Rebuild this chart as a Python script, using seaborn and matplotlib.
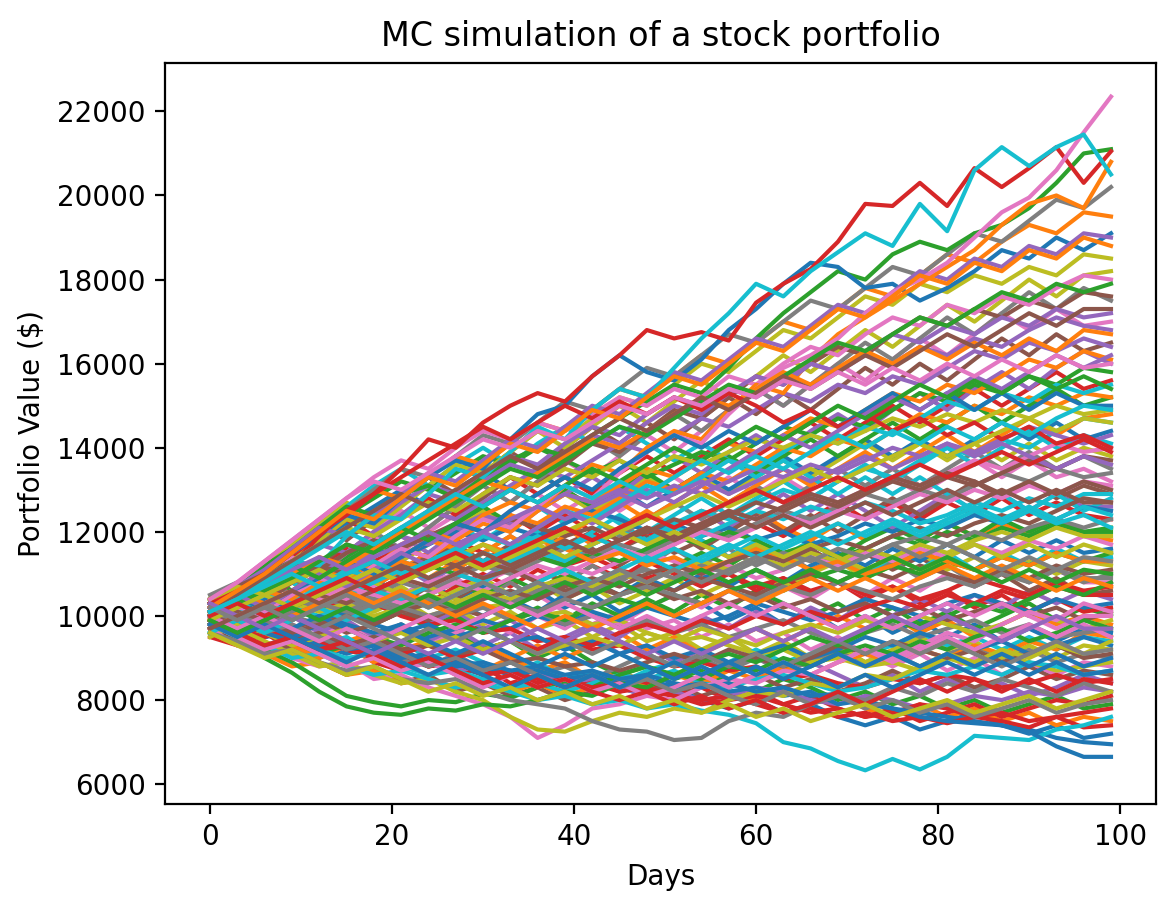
import matplotlib
matplotlib.use("Agg")
import matplotlib.pyplot as plt
import pandas as pd
import seaborn as sns

# Day axis: every 3rd trading day, 0..99
DAYS = list(range(0, 100, 3))

# Portfolio paths ($)
sim_00 = [10200, 9800, 9500, 9700, 9300, 9100, 9300, 8900, 9100, 8800,
          8600, 8900, 8700, 8400, 8600, 8300, 8100, 8300, 8000, 7800,
          8000, 7700, 7900, 7600, 7400, 7600, 7300, 7500, 7700, 7400,
          7200, 7400, 7100, 7200]
sim_01 = [9900, 10100, 9700, 9500, 9800, 9400, 9600, 9200, 9400, 9000,
          9300, 9000, 8700, 8900, 8500, 8700, 8400, 8200, 8500, 8200,
          8000, 8300, 7900, 8100, 7800, 7600, 7900, 7600, 7800, 7500,
          7700, 7400, 7600, 7500]
sim_02 = [10400, 10100, 10300, 9900, 10200, 9800, 9500, 9800, 9400, 9600,
          9200, 9400, 9000, 9300, 8900, 8600, 8800, 8500, 8700, 8400,
          8200, 8500, 8300, 8000, 8200, 7900, 8100, 7800, 8000, 7700,
          7900, 8100, 7800, 7900]
sim_03 = [9500, 9300, 9600, 9200, 9000, 9300, 8900, 8700, 9000, 8600,
          8800, 8400, 8600, 8300, 8500, 8200, 8400, 8100, 8300, 8000,
          8200, 7900, 8100, 7800, 7600, 7800, 7500, 7700, 7900, 7600,
          7800, 8000, 7900, 8100]
sim_04 = [10100, 10400, 10000, 10300, 10600, 10200, 10500, 10100, 9800, 10100,
          9700, 9900, 9500, 9200, 9500, 9100, 9300, 8900, 9200, 8800,
          9000, 8700, 8900, 8600, 8300, 8600, 8200, 8500, 8200, 8400,
          8100, 8300, 8600, 8400]
sim_05 = [9700, 9400, 9100, 9300, 8900, 8600, 8800, 8400, 8600, 8200,
          8400, 8100, 8300, 8000, 8200, 8500, 8200, 8400, 8100, 8300,
          8600, 8300, 8500, 8200, 8400, 8700, 8400, 8600, 8300, 8500,
          8800, 8500, 8700, 8600]
sim_06 = [10300, 10700, 10400, 10800, 11100, 10800, 11200, 10900, 10600, 10900,
          10500, 10200, 10500, 10100, 9800, 10100, 9700, 9900, 9500, 9800,
          9400, 9600, 9200, 9500, 9100, 8800, 9100, 8700, 9000, 8600,
          8900, 8600, 8900, 8800]
sim_07 = [9900, 9600, 9800, 9400, 9600, 9200, 9400, 9000, 8800, 9100,
          8700, 8900, 8600, 8800, 8500, 8800, 9100, 8800, 9000, 8700,
          9000, 8700, 8900, 9200, 8900, 9100, 8800, 9100, 9300, 9000,
          9200, 8900, 9100, 9000]
sim_08 = [10000, 10300, 10600, 10300, 10700, 10400, 10100, 10400, 10000, 10200,
          9800, 10100, 9700, 9900, 9500, 9800, 9400, 9600, 9200, 9500,
          9100, 9400, 9000, 9300, 8900, 9200, 9500, 9200, 9400, 9000,
          9300, 9000, 9300, 9200]
sim_09 = [9600, 9900, 9500, 9700, 9300, 9500, 9100, 9400, 9000, 9200,
          8900, 8600, 8900, 8500, 8700, 8400, 8700, 8900, 8600, 8900,
          9200, 8900, 9100, 9400, 9100, 9300, 9600, 9300, 9500, 9200,
          9500, 9200, 9500, 9400]
sim_10 = [10200, 9900, 10200, 10500, 10200, 10600, 10900, 10500, 10800, 10400,
          10700, 10300, 10600, 10200, 10500, 10100, 10400, 10000, 10300, 9900,
          10200, 9800, 10100, 9700, 10000, 9600, 9900, 9500, 9800, 9400,
          9700, 9400, 9700, 9600]
sim_11 = [9800, 9500, 9700, 9300, 9000, 9300, 8900, 9200, 8800, 9000,
          8700, 9000, 9300, 9000, 9300, 9600, 9200, 9500, 9100, 9400,
          9700, 9400, 9700, 10000, 9700, 10000, 9600, 9900, 9500, 9800,
          10100, 9800, 10000, 9800]
sim_12 = [10100, 10400, 10000, 10300, 9900, 10200, 9800, 10100, 9700, 10000,
          9600, 9900, 10200, 9900, 10300, 10000, 10400, 10100, 10500, 10200,
          10600, 10300, 10000, 10300, 9900, 10200, 9800, 10100, 9700, 10000,
          10300, 9900, 10200, 10000]
sim_13 = [9700, 9900, 9600, 9900, 10200, 9900, 10300, 10600, 10300, 10700,
          11000, 10700, 11100, 10800, 11200, 10900, 11300, 11000, 10700, 11000,
          10600, 10900, 10500, 10800, 10400, 10700, 10300, 10600, 10200, 10500,
          10100, 10400, 10100, 10200]
sim_14 = [10300, 10000, 9700, 10000, 9600, 9900, 9500, 9800, 9400, 9700,
          9300, 9600, 9200, 9500, 9800, 9500, 9900, 9600, 10000, 9700,
          10100, 9800, 10200, 9900, 10300, 10000, 10400, 10100, 10500, 10200,
          10600, 10300, 10600, 10400]
sim_15 = [9900, 10200, 10500, 10800, 10500, 10900, 11300, 10900, 11300, 11700,
          11300, 11700, 12100, 11700, 12000, 11600, 11900, 11500, 11800, 11400,
          11700, 11300, 11600, 11200, 11500, 11100, 11400, 11000, 10700, 11000,
          10600, 10900, 10500, 10600]
sim_16 = [10000, 9800, 10100, 9800, 9500, 9800, 9400, 9700, 9300, 9600,
          9900, 9600, 10000, 9700, 10100, 9800, 10200, 10500, 10200, 10600,
          10300, 10700, 10400, 10800, 10500, 10900, 10600, 11000, 10700, 11100,
          10800, 11100, 10800, 10800]
sim_17 = [10500, 10800, 10500, 10900, 10600, 10300, 10600, 10200, 10500, 10100,
          10400, 10800, 10400, 10800, 11200, 10800, 11200, 11600, 11200, 11600,
          11200, 11500, 11100, 11400, 11000, 11300, 10900, 11200, 10800, 11100,
          10800, 11100, 10800, 11000]
sim_18 = [9800, 10100, 10400, 10100, 10500, 10800, 10400, 10700, 10300, 10600,
          10900, 10500, 10800, 10400, 10700, 10300, 10600, 10900, 10500, 10800,
          11100, 10700, 11000, 11300, 10900, 11200, 11500, 11100, 11400, 11000,
          11300, 11000, 11300, 11200]
sim_19 = [10200, 10500, 10900, 11300, 11000, 11400, 11800, 11400, 11800, 12200,
          11800, 12200, 12600, 12200, 12600, 12200, 11800, 12200, 11800, 11400,
          11800, 11400, 11800, 11400, 11000, 11400, 11100, 11500, 11100, 11500,
          11200, 11600, 11300, 11400]
sim_20 = [9900, 9600, 9900, 9500, 9800, 10100, 9800, 10200, 9900, 10300,
          10000, 10400, 10100, 10500, 10800, 10500, 10900, 10600, 11000, 10700,
          11100, 10800, 11200, 11500, 11200, 11600, 11300, 11700, 11400, 11800,
          11500, 11800, 11500, 11600]
sim_21 = [10100, 10400, 10100, 10500, 10900, 10500, 10900, 11300, 10900, 11300,
          11700, 11300, 11700, 12100, 11700, 12100, 12500, 12100, 12500, 12100,
          12500, 12100, 11800, 12200, 11800, 12200, 11800, 12200, 11900, 12200,
          11900, 12200, 11900, 11800]
sim_22 = [9700, 10000, 9700, 10000, 10300, 10000, 10400, 10100, 10500, 10800,
          10500, 10900, 10600, 11000, 10700, 11100, 10800, 11200, 11500, 11200,
          11600, 11300, 11700, 11400, 11800, 12100, 11800, 12200, 11900, 12300,
          12000, 12300, 12000, 12000]
sim_23 = [10400, 10700, 11100, 10800, 11200, 11600, 11200, 11600, 12000, 11600,
          12000, 12400, 12000, 12400, 12000, 11600, 12000, 11700, 12100, 11800,
          12200, 11900, 12300, 12700, 12300, 12700, 12300, 12700, 12400, 12800,
          12400, 12700, 12400, 12300]
sim_24 = [10000, 10300, 10000, 10400, 10700, 10400, 10800, 11200, 10800, 11200,
          10900, 11300, 11700, 11300, 11700, 12100, 11700, 12100, 12500, 12100,
          12500, 12900, 12500, 12900, 12500, 12100, 12500, 12900, 12500, 12900,
          12500, 12900, 12600, 12600]
sim_25 = [9800, 10100, 9800, 10200, 10500, 10200, 10600, 10300, 10700, 10400,
          10800, 11200, 10800, 11200, 11600, 11200, 11600, 12000, 11600, 12000,
          12400, 12000, 12400, 12000, 12400, 12800, 12400, 12800, 13200, 12800,
          13200, 12800, 13100, 12900]
sim_26 = [10200, 10600, 11000, 11400, 11000, 11500, 11900, 11500, 12000, 12400,
          12000, 12500, 12900, 12500, 12900, 12500, 12900, 13300, 12900, 13300,
          12900, 13300, 12900, 12500, 12900, 13300, 12900, 13300, 13700, 13300,
          13700, 13300, 13500, 13200]
sim_27 = [9900, 10200, 10600, 10300, 10700, 11100, 10700, 11100, 11500, 11100,
          11500, 11900, 11500, 11900, 12300, 11900, 12300, 12700, 12300, 12700,
          13100, 12700, 13100, 13500, 13100, 13500, 13100, 13500, 13900, 13500,
          13900, 13500, 13800, 13500]
sim_28 = [10100, 10500, 10900, 10500, 10900, 11300, 11700, 11300, 11700, 12100,
          12500, 12100, 12500, 12900, 12500, 12900, 13300, 12900, 13300, 12900,
          13300, 13700, 13300, 13700, 14100, 13700, 14100, 13700, 14100, 13700,
          14100, 13700, 14000, 13800]
sim_29 = [10300, 10000, 10400, 10800, 10400, 10800, 11200, 10800, 11200, 11600,
          11200, 11600, 12000, 11600, 12000, 12400, 12000, 12400, 12800, 12400,
          12800, 13200, 12800, 13200, 13600, 13200, 13600, 14000, 13600, 14000,
          14400, 14000, 14300, 14100]
sim_30 = [10000, 10400, 10800, 11300, 11700, 12200, 12600, 13000, 12600, 13000,
          13400, 13000, 13400, 13000, 12600, 13000, 12600, 13000, 13400, 13000,
          13400, 13800, 13400, 13800, 14200, 13800, 14200, 13800, 14200, 14600,
          14200, 14600, 14200, 14400]
sim_31 = [9900, 10300, 9900, 10300, 10700, 10300, 10700, 11100, 11500, 11100,
          11500, 11900, 11500, 11900, 12300, 12700, 12300, 12700, 13100, 12700,
          13100, 13500, 13100, 13500, 13900, 13500, 13900, 14300, 13900, 14300,
          14700, 14300, 14700, 14800]
sim_32 = [10200, 10600, 11000, 10600, 11000, 11400, 11800, 11400, 11800, 12200,
          12600, 12200, 12600, 13000, 12600, 13000, 13400, 13000, 13400, 13800,
          13400, 13800, 14200, 13800, 14200, 14600, 14200, 14600, 15000, 14600,
          15000, 15400, 15000, 15200]
sim_33 = [10100, 10500, 10900, 11400, 11800, 12300, 11900, 12400, 12800, 12400,
          12900, 13300, 12900, 13300, 12900, 13400, 13800, 13400, 13800, 14200,
          13800, 14200, 14600, 14200, 14600, 15000, 14600, 15000, 15400, 15000,
          15400, 15800, 15400, 15600]
sim_34 = [9800, 10200, 10600, 11000, 10600, 11100, 11500, 11900, 11500, 12000,
          12400, 12000, 12500, 12900, 13300, 12900, 13400, 13800, 13400, 13900,
          14300, 13900, 14400, 14800, 14400, 14900, 15300, 14900, 15400, 15800,
          15400, 15900, 16300, 16000]
sim_35 = [10300, 10700, 11200, 11700, 12200, 11800, 12300, 12800, 13300, 12900,
          13400, 13900, 13500, 14000, 14500, 14100, 14600, 14200, 14700, 15200,
          14800, 15300, 14900, 15400, 15900, 15500, 16000, 15600, 16100, 16600,
          16200, 16700, 16300, 16500]
sim_36 = [10000, 10400, 10900, 11400, 11000, 11500, 12000, 12500, 12100, 12600,
          13100, 12700, 13200, 13700, 13300, 13800, 14300, 13900, 14400, 14900,
          15400, 15000, 15500, 16000, 15600, 16100, 16600, 16200, 16700, 17200,
          16800, 17300, 16900, 17000]
sim_37 = [10100, 10500, 10900, 10500, 11000, 11500, 12000, 11600, 12100, 12600,
          13100, 12700, 13200, 13700, 14200, 13800, 14300, 14800, 14400, 14900,
          15400, 15000, 15500, 16000, 16500, 16100, 16600, 17100, 16700, 17200,
          17700, 17300, 17800, 17500]
sim_38 = [10200, 10700, 11200, 11700, 12200, 12700, 12300, 12800, 13300, 13800,
          13400, 13900, 14400, 14000, 14500, 15000, 14600, 15100, 15600, 15200,
          15700, 16200, 15800, 16300, 16800, 16400, 16900, 17400, 17000, 17500,
          18000, 17600, 18100, 18200]
sim_39 = [10200, 10600, 11100, 11600, 12100, 12600, 13100, 13500, 13100, 13600,
          14000, 13600, 14100, 14500, 14100, 14500, 14100, 13700, 14100, 13700,
          13300, 13700, 13300, 12900, 13300, 12900, 13300, 12900, 12500, 12900,
          12500, 12900, 12500, 12800]
sim_40 = [10300, 10600, 10900, 11200, 11000, 11300, 11600, 11400, 11700, 12000,
          11800, 12100, 11900, 12200, 12500, 12300, 12000, 12200, 11900, 12100,
          11800, 12000, 11700, 11900, 12200, 12000, 12300, 12100, 12400, 12200,
          12500, 12300, 12600, 12500]
sim_41 = [9600, 9300, 9100, 8800, 8900, 8600, 8700, 8400, 8500, 8300,
          8400, 8200, 8400, 8100, 8300, 8500, 8300, 8600, 8400, 8700,
          8500, 8800, 8600, 8900, 9100, 8900, 9200, 9000, 9300, 9100,
          9400, 9200, 9600, 9500]
sim_42 = [10300, 10700, 11200, 11600, 12000, 12400, 12800, 13200, 13000, 13400,
          13800, 13600, 14000, 13700, 13400, 13700, 13300, 13600, 13900, 13700,
          14100, 14500, 14300, 14700, 14500, 14900, 15300, 15100, 15500, 15300,
          15700, 15500, 15900, 15800]
sim_43 = [10300, 10600, 10400, 10800, 11100, 10900, 11300, 11600, 11400, 11800,
          11500, 11300, 11500, 11200, 11400, 11100, 10900, 11100, 10800, 11000,
          10700, 10900, 10600, 10800, 10500, 10700, 10400, 10600, 10900, 10700,
          10500, 10800, 10600, 10700]
sim_44 = [10000, 9700, 9800, 9500, 9300, 9400, 9100, 9200, 8900, 8700,
          8800, 8600, 8700, 8400, 8500, 8300, 8100, 8200, 8000, 8100,
          8300, 8200, 8000, 7900, 8100, 8000, 7800, 7900, 8100, 8000,
          8200, 8100, 8300, 8200]
sim_45 = [10100, 10500, 10300, 10800, 11200, 11700, 11500, 12000, 12500, 12300,
          12800, 13300, 13100, 13600, 14100, 13900, 14400, 14900, 14700, 15200,
          15700, 15500, 16000, 16400, 16200, 16700, 17100, 16900, 17300, 17100,
          17500, 17300, 17700, 17600]
sim_46 = [10000, 10200, 10500, 10300, 10600, 10400, 10700, 10500, 10800, 11000,
          10800, 11100, 10900, 11200, 11000, 11300, 11500, 11300, 11000, 11200,
          10900, 11100, 11400, 11200, 11500, 11300, 11600, 11400, 11700, 11500,
          11800, 11600, 11900, 11700]
sim_47 = [9700, 10000, 10300, 10100, 10400, 10200, 10500, 10800, 10600, 10900,
          11200, 11000, 11300, 11600, 11400, 11700, 11500, 11800, 12100, 11900,
          12200, 12500, 12300, 12600, 12900, 12700, 13000, 12800, 13100, 13400,
          13200, 13500, 13300, 13400]
sim_48 = [10100, 10400, 10600, 10900, 10700, 11000, 10800, 10500, 10700, 10400,
          10200, 10300, 10000, 10100, 9800, 9900, 9600, 9400, 9500, 9300,
          9100, 9200, 8900, 9000, 8800, 8900, 8700, 9000, 8800, 9100,
          8900, 8700, 8800, 8900]
sim_49 = [9900, 10100, 9900, 10200, 10000, 10300, 10600, 10400, 10700, 11000,
          10800, 11200, 11500, 11300, 11700, 12000, 11800, 12200, 12500, 12300,
          12700, 13000, 12800, 13200, 13500, 13300, 13700, 14000, 13800, 14200,
          14000, 14400, 14700, 14600]
sim_50 = [9800, 9600, 9900, 9700, 10000, 9800, 9600, 9800, 9500, 9700,
          9900, 9700, 10000, 9800, 10100, 9900, 10200, 10000, 9800, 10000,
          10300, 10100, 9900, 10100, 10400, 10200, 10000, 10300, 10500, 10300,
          10100, 10400, 10200, 10300]
sim_51 = [10000, 10500, 11000, 11500, 12000, 12500, 13000, 12800, 13300, 13800,
          13600, 14100, 14600, 14400, 14900, 15400, 15200, 15700, 16200, 16000,
          16500, 17000, 16800, 17300, 17800, 17600, 18100, 18600, 18400, 18900,
          19300, 19100, 19600, 19500]
sim_52 = [9800, 10100, 10400, 10200, 10500, 10800, 10600, 10900, 11200, 11000,
          11300, 11100, 11400, 11200, 11500, 11300, 11600, 11900, 11700, 12000,
          11800, 11500, 11700, 11400, 11600, 11900, 11700, 12000, 11800, 12100,
          11900, 12200, 12000, 12100]
sim_53 = [10200, 10500, 10300, 10600, 10400, 10100, 10300, 10000, 9800, 9900,
          9600, 9700, 9400, 9500, 9200, 9300, 9000, 8800, 8900, 8700,
          8800, 8500, 8600, 8400, 8300, 8500, 8400, 8600, 8500, 8300,
          8400, 8600, 8400, 8500]
sim_54 = [9900, 10300, 10700, 11100, 10900, 11300, 11700, 12100, 12500, 12300,
          12700, 13100, 13500, 13300, 13700, 14100, 13900, 14300, 14700, 14500,
          14900, 15300, 15100, 15500, 15300, 15700, 15500, 15900, 16300, 16100,
          16500, 16300, 16600, 16400]
sim_55 = [10100, 9800, 10000, 9700, 9900, 9600, 9800, 10100, 9900, 10200,
          10000, 10300, 10100, 10400, 10700, 10500, 10800, 10600, 10900, 10700,
          10500, 10800, 11000, 10800, 11100, 10900, 11200, 11000, 10800, 11100,
          10900, 11200, 11000, 11100]
sim_56 = [10000, 10200, 10000, 10300, 10500, 10300, 10600, 10900, 10700, 11000,
          11300, 11100, 11400, 11700, 11500, 11800, 12100, 11900, 12200, 12500,
          12300, 12600, 12900, 12700, 13000, 13300, 13100, 13400, 13700, 13500,
          13800, 14100, 13900, 14000]
sim_57 = [10000, 10300, 10100, 10400, 10200, 10500, 10300, 10100, 10300, 10000,
          10200, 9900, 10100, 9800, 10000, 9700, 9900, 9600, 9800, 9500,
          9700, 9900, 9600, 9400, 9600, 9800, 9500, 9700, 9900, 9600,
          9800, 9500, 9600, 9700]
sim_58 = [9900, 10300, 10800, 11300, 11800, 12300, 12100, 12600, 13100, 13600,
          13400, 13900, 14400, 14200, 14700, 15200, 15000, 15500, 16000, 15800,
          16300, 16800, 16600, 17100, 17600, 17400, 17900, 17700, 18100, 17900,
          18300, 18100, 18600, 18500]
sim_59 = [10000, 10300, 10100, 10400, 10700, 10500, 10800, 11100, 10900, 11200,
          11500, 11300, 11600, 11400, 11700, 12000, 11800, 12100, 11900, 12200,
          12500, 12300, 12600, 12400, 12700, 12500, 12200, 12400, 12700, 12500,
          12800, 12600, 12900, 12900]
sim_60 = [10300, 10100, 10400, 10200, 9900, 10100, 9800, 9600, 9800, 9500,
          9700, 9400, 9500, 9200, 9400, 9100, 9300, 9000, 9200, 8900,
          9100, 9300, 9000, 9200, 9500, 9300, 9600, 9400, 9200, 9400,
          9100, 9300, 9500, 9300]
sim_61 = [10000, 10300, 10600, 10400, 10800, 11200, 11000, 11400, 11800, 11600,
          12000, 12400, 12200, 12600, 12400, 12800, 13200, 13000, 13400, 13200,
          13600, 14000, 13800, 14200, 14000, 14400, 14800, 14600, 15000, 14800,
          15200, 15000, 15300, 15200]
sim_62 = [9600, 9400, 9200, 9400, 9100, 9300, 9500, 9300, 9600, 9800,
          9600, 9900, 10100, 9900, 10200, 10400, 10200, 10500, 10300, 10600,
          10800, 10600, 10900, 11100, 10900, 11200, 11000, 11300, 11100, 11400,
          11200, 11500, 11300, 11500]
sim_63 = [9900, 9600, 9700, 9400, 9500, 9200, 9000, 9100, 8800, 8900,
          8600, 8700, 8500, 8300, 8400, 8200, 8300, 8100, 7900, 8000,
          8100, 7900, 7700, 7800, 7600, 7700, 7900, 7800, 7600, 7700,
          7500, 7600, 7700, 7800]
sim_64 = [10200, 10600, 11000, 11500, 11900, 12400, 12200, 12700, 13100, 12900,
          13400, 13800, 13600, 14100, 14500, 14300, 14800, 15200, 15000, 15400,
          15200, 15600, 16000, 15800, 16200, 16000, 16400, 16200, 16600, 16400,
          16800, 17100, 16900, 16800]
sim_65 = [10400, 10700, 11000, 10800, 11200, 11000, 11300, 11100, 11400, 11200,
          10900, 11100, 10800, 10600, 10800, 10500, 10700, 10400, 10600, 10300,
          10500, 10200, 10400, 10100, 10300, 10000, 10200, 9900, 10100, 10300,
          10000, 10200, 9900, 10100]
sim_66 = [10200, 10000, 10300, 10600, 10400, 10700, 10500, 10300, 10500, 10800,
          10600, 10900, 11200, 11000, 11300, 11600, 11400, 11700, 12000, 11800,
          12100, 12400, 12200, 12500, 12300, 12600, 12900, 12700, 13000, 12800,
          13100, 12900, 13200, 13100]
sim_67 = [10100, 10500, 11000, 11500, 12000, 12500, 13000, 13500, 13300, 13800,
          14300, 14100, 14600, 15100, 14900, 15400, 15900, 15700, 16200, 16700,
          16500, 17000, 17500, 17300, 17800, 18300, 18100, 18600, 19100, 18900,
          19400, 19900, 19700, 20200]
sim_68 = [10400, 10200, 10500, 10300, 10100, 10300, 10000, 10200, 10500, 10300,
          10600, 10400, 10700, 10900, 10700, 11000, 10800, 11100, 11300, 11100,
          11400, 11200, 11500, 11300, 11600, 11400, 11700, 11500, 11800, 12000,
          11800, 12100, 11900, 11900]
sim_69 = [9800, 9500, 9300, 9500, 9200, 9000, 9100, 8800, 8600, 8700,
          8500, 8300, 8400, 8200, 8400, 8600, 8500, 8700, 8400, 8300,
          8500, 8600, 8400, 8200, 8300, 8500, 8700, 8600, 8800, 8600,
          8900, 8800, 8600, 8700]
sim_70 = [10000, 9800, 9500, 9600, 9300, 9400, 9100, 9200, 8900, 9000,
          8800, 8600, 8700, 8500, 8600, 8400, 8500, 8300, 8400, 8200,
          8300, 8100, 8200, 7900, 8000, 7800, 7700, 7600, 7500, 7400,
          7300, 7100, 7000, 6950]
sim_71 = [10100, 10400, 10200, 10600, 11000, 10800, 11200, 11600, 11400, 11800,
          12200, 12000, 12500, 12900, 12700, 13100, 13500, 13300, 13700, 14100,
          13900, 14300, 14700, 14500, 14900, 15300, 15100, 15500, 15300, 15700,
          16100, 15900, 16300, 16100]
sim_72 = [10300, 10700, 11100, 11600, 12100, 12600, 12400, 12900, 13100, 12800,
          13300, 13700, 14000, 13800, 14300, 14700, 15100, 15500, 15300, 15900,
          16600, 17200, 17700, 18200, 18000, 18600, 18900, 18700, 19100, 19300,
          19700, 20300, 21000, 21100]
sim_73 = [10000, 9700, 9500, 9700, 9400, 9200, 9400, 9100, 9300, 9000,
          9200, 9400, 9200, 9500, 9300, 9600, 9800, 9600, 9900, 9700,
          10000, 9800, 10100, 9900, 10200, 10400, 10200, 10500, 10300, 10600,
          10400, 10700, 10500, 10500]
sim_74 = [10100, 10400, 10700, 11000, 11300, 11100, 11500, 11900, 11700, 12100,
          12400, 12200, 12600, 12900, 12700, 13000, 12800, 13100, 12900, 13200,
          13500, 13300, 13600, 13400, 13700, 14000, 13800, 14100, 13900, 14200,
          14500, 14300, 14100, 14300]
sim_75 = [9700, 9900, 9600, 9400, 9600, 9300, 9500, 9200, 9300, 9100,
          9200, 8900, 9000, 8800, 8900, 8700, 8900, 9100, 8900, 9200,
          9000, 8800, 9000, 9300, 9100, 9400, 9200, 9000, 9200, 8900,
          9100, 9300, 9000, 9100]
sim_76 = [10300, 10800, 11300, 11800, 12300, 12800, 13300, 13700, 13500, 14000,
          14400, 14200, 14600, 14400, 14800, 15200, 15000, 15400, 15200, 15700,
          15500, 16000, 16400, 16200, 16700, 17100, 16900, 17400, 17200, 17600,
          17400, 17800, 18100, 18000]
sim_77 = [10100, 9900, 10200, 10000, 9800, 10000, 10300, 10100, 10400, 10200,
          10500, 10300, 10600, 10800, 10600, 10900, 11100, 10900, 11200, 11000,
          11300, 11500, 11300, 11600, 11400, 11700, 11900, 11700, 12000, 11800,
          12100, 12300, 12100, 12300]
sim_78 = [9500, 9800, 9600, 9300, 9500, 9700, 9400, 9600, 9300, 9500,
          9200, 9400, 9100, 9300, 9500, 9300, 9600, 9400, 9700, 9500,
          9300, 9600, 9800, 9600, 9900, 9700, 10000, 9800, 9600, 9800,
          10100, 9900, 9700, 9900]
sim_79 = [9800, 10100, 10500, 10300, 10700, 11100, 10900, 11300, 11100, 11500,
          11900, 11700, 12100, 12500, 12300, 12700, 13100, 12900, 13300, 13700,
          13500, 13900, 14300, 14100, 14500, 14300, 14700, 15100, 14900, 15300,
          15100, 15500, 15300, 15500]
sim_80 = [10200, 10600, 11000, 11500, 11900, 12400, 12200, 12800, 13300, 13700,
          13500, 14200, 14800, 15000, 15700, 16200, 15800, 15600, 16100, 16800,
          17300, 17900, 18400, 18300, 17800, 17900, 17500, 17800, 18200, 18700,
          18500, 19000, 18700, 19100]
sim_81 = [10200, 10500, 10300, 10600, 10900, 10700, 11000, 11300, 11100, 11400,
          11700, 11500, 11800, 11600, 11300, 11500, 11200, 11400, 11100, 11300,
          11600, 11400, 11100, 11300, 11000, 11200, 11500, 11300, 11100, 11400,
          11200, 11500, 11300, 11300]
sim_82 = [10000, 9700, 9200, 8900, 8500, 8100, 7950, 7850, 8000, 7950,
          8150, 8050, 8300, 8450, 8300, 8600, 8800, 8600, 8900, 9100,
          8900, 9200, 9500, 9300, 9600, 9900, 9700, 10000, 10300, 10100,
          10400, 10700, 10500, 10800]
sim_83 = [9800, 9600, 9700, 9400, 9200, 9300, 9000, 9100, 8800, 8900,
          8600, 8700, 8400, 8500, 8300, 8400, 8200, 8100, 8000, 8100,
          7900, 7700, 7800, 7600, 7700, 7500, 7600, 7450, 7600, 7500,
          7350, 7600, 7350, 7400]
sim_84 = [10200, 10700, 11100, 11600, 12100, 11900, 12400, 12900, 13400, 13200,
          13700, 14200, 14000, 14500, 15000, 14800, 15300, 15800, 15600, 16100,
          16600, 16400, 16900, 17400, 17200, 17700, 18200, 18000, 18500, 18300,
          18800, 18600, 19100, 19000]
sim_85 = [9900, 9700, 9900, 9600, 9800, 10000, 9800, 10100, 10300, 10100,
          10400, 10600, 10400, 10700, 10900, 10700, 11000, 11200, 11000, 11300,
          11500, 11300, 11600, 11800, 11600, 11900, 12100, 11900, 12200, 12400,
          12200, 12500, 12800, 12700]
sim_86 = [9700, 9300, 9400, 9000, 8800, 8900, 8500, 8600, 8300, 8100,
          7900, 7600, 7100, 7400, 7800, 7900, 8100, 8000, 8300, 8500,
          8400, 8700, 8600, 8900, 9200, 9000, 9300, 9600, 9400, 9800,
          10100, 9900, 10300, 10100]
sim_87 = [9900, 10100, 9800, 10000, 10300, 10100, 10400, 10200, 10000, 10200,
          10500, 10300, 10100, 10400, 10200, 10500, 10700, 10500, 10300, 10600,
          10400, 10700, 10500, 10800, 10600, 10400, 10700, 10900, 10700, 11000,
          10800, 11100, 10900, 10900]
sim_88 = [10100, 9700, 9400, 9100, 8800, 8900, 8600, 8400, 8500, 8200,
          8000, 7600, 7300, 7250, 7500, 7700, 7600, 7800, 7700, 8000,
          8200, 8100, 8400, 8300, 8600, 8500, 8800, 9100, 8900, 9200,
          9000, 9300, 9100, 9400]
sim_89 = [9800, 9500, 9300, 9000, 9100, 8800, 8600, 8700, 8500, 8300,
          8400, 8200, 8000, 8100, 7900, 8000, 7800, 7900, 7750, 7650,
          7450, 7000, 6850, 6550, 6330, 6600, 6350, 6650, 7150, 7100,
          7050, 7300, 7400, 7600]
sim_90 = [9700, 9900, 9600, 9400, 9500, 9200, 9300, 9000, 9100, 8800,
          8900, 8700, 8800, 8600, 8700, 8500, 8600, 8400, 8300, 8400,
          8200, 8300, 8100, 8150, 7900, 7800, 7600, 7500, 7450, 7400,
          7250, 6900, 6650, 6650]
sim_91 = [10000, 10200, 10600, 10400, 10900, 11300, 11100, 11700, 12000, 11800,
          12400, 12700, 12500, 13100, 13600, 13400, 14000, 14400, 14200, 14900,
          15500, 15300, 16100, 16700, 17100, 17500, 17900, 18300, 18700, 19300,
          19800, 20000, 19700, 20800]
sim_92 = [9900, 9500, 9000, 8650, 8200, 7850, 7700, 7650, 7800, 7750,
          7900, 7850, 8000, 8200, 8100, 8400, 8300, 8600, 8500, 8800,
          8700, 9000, 8800, 9100, 9300, 9100, 9400, 9200, 9500, 9700,
          9400, 9600, 9900, 9700]
sim_93 = [10000, 10300, 10800, 11200, 11900, 12500, 12900, 13500, 14200, 14000,
          14600, 15000, 15300, 15100, 15700, 16200, 16800, 16600, 16750, 16550,
          17450, 17900, 18250, 18900, 19800, 19750, 20300, 19750, 20650, 20200,
          20650, 21150, 20300, 21050]
sim_94 = [10000, 10400, 10800, 11300, 11700, 11500, 12000, 12400, 12900, 12700,
          13200, 13600, 13400, 13900, 14300, 14100, 14600, 15000, 14800, 15300,
          15700, 15500, 16000, 15800, 16300, 16700, 16500, 16900, 16700, 17100,
          16900, 17300, 17100, 17200]
sim_95 = [10400, 10700, 11000, 11300, 11100, 11500, 11800, 11600, 11900, 12200,
          12000, 12300, 12100, 11900, 12100, 11800, 12000, 12300, 12100, 12400,
          12700, 12500, 12800, 12600, 12900, 13200, 13000, 13300, 13100, 13400,
          13700, 13500, 13800, 13700]
sim_96 = [9900, 10200, 10100, 10500, 10900, 10700, 11200, 11600, 11400, 11900,
          12300, 12100, 12600, 13100, 12800, 13400, 13900, 14300, 14100, 14800,
          15400, 15900, 16200, 16600, 17200, 17700, 18000, 18400, 19000, 19600,
          19950, 20600, 21500, 22350]
sim_97 = [9600, 9400, 9100, 9200, 8900, 8700, 8800, 8500, 8400, 8500,
          8200, 8000, 7900, 7800, 7500, 7300, 7250, 7050, 7100, 7500,
          7700, 7600, 7900, 8100, 8000, 8300, 8100, 8400, 8200, 8500,
          8300, 8100, 8400, 8200]
sim_98 = [10200, 10500, 10900, 11300, 11700, 12100, 11900, 12300, 12700, 12500,
          12900, 13300, 13100, 13500, 13300, 13700, 13400, 13800, 13600, 13900,
          14200, 14000, 14300, 14100, 14400, 14700, 14500, 14800, 14600, 14900,
          14700, 15000, 14800, 14900]
sim_99 = [10100, 10400, 10900, 11300, 11200, 11900, 12400, 12300, 12900, 13500,
          13300, 13900, 14500, 14200, 14900, 15400, 15200, 15900, 16600, 17200,
          17900, 17600, 18200, 18650, 19100, 18800, 19800, 19150, 20600, 21150,
          20700, 21150, 21450, 20500]
sim_100 = [10100, 10400, 10200, 10600, 10900, 11300, 11000, 11400, 11800, 12200,
           12000, 12500, 12900, 13300, 13000, 13500, 13900, 14300, 14000, 14400,
           14100, 14500, 14900, 14500, 14900, 15300, 14900, 15300, 14900, 15300,
           14900, 15300, 15000, 15000]
sim_101 = [9900, 10200, 10600, 11000, 11400, 11200, 11600, 12000, 12400, 12800,
           13200, 13000, 13400, 13800, 14200, 14000, 14400, 14800, 15200, 15000,
           15400, 15800, 15500, 15900, 16300, 16000, 16400, 16100, 16500, 16200,
           16600, 16300, 16800, 16700]
sim_102 = [10000, 10300, 10600, 10900, 11300, 11700, 11500, 11900, 12300, 12700,
           13100, 13500, 13300, 13700, 14100, 14500, 14300, 14700, 15100, 15500,
           15300, 15700, 16100, 16500, 16300, 16700, 17100, 16900, 17300, 17700,
           17500, 17900, 17700, 17900]
sim_103 = [10300, 10600, 11000, 11500, 12000, 12400, 12900, 13300, 13700, 14100,
           14500, 14200, 14600, 15000, 14700, 15100, 14800, 15200, 14900, 15300,
           15000, 14600, 14900, 14500, 14800, 14400, 14700, 14300, 14600, 14200,
           14500, 14100, 14300, 14000]
sim_104 = [10200, 10500, 10200, 10600, 11000, 10700, 11100, 11500, 11200, 11600,
           12000, 11700, 12100, 12500, 12200, 12600, 13000, 12700, 13100, 13500,
           13900, 14300, 14000, 14400, 14800, 15200, 14900, 15300, 15700, 15400,
           15800, 16200, 15900, 16200]
sim_105 = [9800, 10100, 9900, 10200, 10500, 10300, 10600, 10900, 10700, 11000,
           11300, 11100, 11400, 11700, 11500, 11800, 12100, 11900, 12200, 12500,
           12300, 12600, 12900, 12700, 13000, 13300, 13100, 13400, 13200, 12900,
           13200, 12900, 13200, 13000]
sim_106 = [9800, 9500, 9200, 9400, 9100, 8800, 9000, 8700, 8900, 8600,
           8300, 8600, 8300, 8500, 8200, 8400, 8100, 8300, 8600, 8300,
           8600, 8900, 8600, 8900, 9200, 8900, 9200, 9500, 9200, 9500,
           9800, 9500, 9800, 9500]
sim_107 = [10100, 9900, 9600, 9800, 9500, 9200, 9400, 9100, 8800, 9000,
           8700, 8900, 8600, 8300, 8600, 8300, 8500, 8200, 8400, 8100,
           7900, 8200, 7900, 8100, 7800, 8000, 7700, 7900, 7600, 7800,
           8000, 7700, 7900, 8000]
sim_108 = [10400, 10700, 10500, 10800, 11100, 10800, 11100, 10800, 11100, 11400,
           11100, 11400, 11700, 11400, 11700, 12000, 11700, 12000, 11700, 11400,
           11700, 11400, 11700, 11400, 11100, 11400, 11100, 11400, 11700, 11400,
           11700, 11400, 11700, 11500]
sim_109 = [9600, 9900, 9600, 9900, 10200, 9900, 10200, 10500, 10200, 10500,
           10800, 10500, 10800, 11100, 10800, 11100, 11400, 11100, 11400, 11700,
           11400, 11700, 12000, 11700, 12000, 12300, 12000, 12300, 12600, 12300,
           12600, 12300, 12600, 12400]
sim_110 = [10000, 10300, 10000, 9700, 10000, 9700, 9400, 9700, 9400, 9100,
           9400, 9100, 8800, 9100, 8800, 9100, 8800, 8500, 8800, 8500,
           8800, 8500, 8800, 9100, 8800, 9100, 8800, 9100, 8800, 9100,
           8800, 9100, 8800, 9000]
sim_111 = [9700, 10000, 10300, 10000, 10300, 10600, 10300, 10600, 10300, 10000,
           10300, 10000, 9700, 10000, 9700, 10000, 10300, 10000, 10300, 10600,
           10300, 10600, 10900, 10600, 10900, 10600, 10900, 11200, 10900, 11200,
           10900, 10600, 10900, 10700]
sim_112 = [10000, 10400, 10800, 11200, 10900, 11300, 11700, 12100, 11800, 12200,
           12600, 13000, 12700, 13100, 13500, 13200, 13600, 14000, 13700, 14100,
           14500, 14200, 14600, 15000, 14700, 15100, 15500, 15200, 15600, 15300,
           15700, 15400, 15700, 15400]
sim_113 = [9900, 9600, 9300, 9500, 9200, 9400, 9100, 8800, 9000, 8700,
           8400, 8600, 8300, 8500, 8200, 8000, 8200, 7900, 8100, 7800,
           8000, 7700, 7900, 8200, 7900, 8200, 8500, 8200, 8500, 8200,
           8500, 8200, 8500, 8400]
sim_114 = [10200, 10500, 10800, 11100, 11400, 11100, 11400, 11700, 12000, 11700,
           12000, 12300, 12600, 12300, 12600, 12900, 12600, 12900, 13200, 12900,
           13200, 13500, 13200, 13500, 13800, 13500, 13800, 14100, 13800, 14100,
           13800, 13500, 13800, 13600]
sim_115 = [10100, 10500, 10900, 11300, 11700, 12100, 12500, 12900, 12600, 13000,
           13400, 13800, 13500, 13900, 14300, 14700, 14400, 14800, 15200, 14900,
           15300, 15700, 15400, 15800, 16200, 15900, 16300, 16700, 16400, 16800,
           17200, 16900, 17300, 17300]
sim_116 = [10000, 9700, 10000, 9700, 9400, 9700, 9400, 9700, 10000, 9700,
           10000, 10300, 10000, 10300, 10000, 9700, 10000, 9700, 10000, 10300,
           10000, 10300, 10000, 9700, 10000, 9700, 10000, 10300, 10000, 10300,
           10000, 9700, 10000, 10000]
sim_117 = [10300, 10000, 10300, 10000, 9700, 10000, 9700, 9400, 9700, 9400,
           9700, 9400, 9100, 9400, 9100, 9400, 9100, 8800, 9100, 8800,
           9100, 8800, 9100, 9400, 9100, 9400, 9100, 9400, 9100, 8800,
           9100, 9400, 9100, 9200]
sim_118 = [9900, 10200, 10500, 10200, 10500, 10800, 11100, 10800, 11100, 11400,
           11700, 11400, 11700, 12000, 12300, 12000, 12300, 12600, 12900, 12600,
           12900, 13200, 13500, 13200, 13500, 13800, 14100, 13800, 14100, 14400,
           14700, 14400, 14700, 14600]
sim_119 = [10100, 10400, 10700, 11000, 10700, 11000, 11300, 11000, 11300, 11600,
           11300, 11600, 11900, 11600, 11900, 11600, 11300, 11600, 11300, 11600,
           11900, 11600, 11900, 12200, 11900, 12200, 11900, 12200, 12500, 12200,
           12500, 12200, 12400, 12100]
sim_120 = [9800, 9500, 9800, 9500, 9200, 8900, 9200, 8900, 8600, 8900,
           8600, 8300, 8600, 8300, 8600, 8300, 8600, 8900, 8600, 8900,
           8600, 8900, 8600, 8300, 8600, 8300, 8600, 8900, 8600, 8900,
           8600, 8900, 8600, 8700]
sim_121 = [10200, 10600, 11000, 11500, 12000, 12500, 12300, 12800, 13300, 13100,
           13600, 14100, 13900, 14400, 14900, 14700, 15200, 15700, 15500, 16000,
           16500, 16300, 16800, 17300, 17100, 17600, 18100, 17900, 18400, 18200,
           18700, 18500, 19000, 18800]
sim_122 = [9900, 9600, 9900, 10200, 9900, 10200, 9900, 10200, 10500, 10200,
           10500, 10200, 10500, 10800, 10500, 10800, 10500, 10800, 11100, 10800,
           11100, 10800, 11100, 10800, 11100, 11400, 11100, 11400, 11100, 10800,
           11100, 10800, 11100, 11000]
sim_123 = [10000, 10300, 10000, 10300, 10600, 10900, 10600, 10900, 11200, 11500,
           11200, 11500, 11800, 12100, 11800, 12100, 12400, 12100, 12400, 12700,
           13000, 12700, 13000, 13300, 13000, 13300, 13600, 13300, 13600, 13900,
           13600, 13900, 14200, 13900]
sim_124 = [10300, 10000, 9700, 10000, 9700, 9400, 9100, 9400, 9100, 9400,
           9100, 9400, 9700, 9400, 9700, 9400, 9100, 9400, 9100, 9400,
           9700, 9400, 9700, 9400, 9700, 10000, 9700, 10000, 9700, 9400,
           9700, 10000, 9700, 9700]
sim_125 = [9700, 10000, 10300, 10600, 10300, 10600, 10900, 11200, 10900, 11200,
           11500, 11200, 11500, 11800, 11500, 11800, 12100, 11800, 12100, 12400,
           12100, 12400, 12100, 12400, 12700, 12400, 12700, 13000, 12700, 13000,
           12700, 13000, 12700, 12700]
sim_126 = [10400, 10800, 11300, 11800, 12300, 12800, 13200, 13000, 13400, 13800,
           14200, 14000, 14400, 14200, 14600, 15000, 14800, 15200, 15000, 15400,
           15200, 15600, 15400, 15800, 15500, 15900, 15600, 16000, 15700, 16100,
           15800, 16200, 15900, 16000]
sim_127 = [10200, 9900, 10200, 9900, 10200, 10500, 10200, 10500, 10200, 10500,
           10800, 10500, 10800, 10500, 10800, 11100, 10800, 11100, 10800, 11100,
           11400, 11100, 11400, 11100, 11400, 11700, 11400, 11700, 11400, 11100,
           11400, 11100, 11400, 11300]
sim_128 = [9600, 9300, 9000, 9200, 8900, 8600, 8800, 8500, 8200, 8400,
           8100, 8300, 8000, 8200, 7900, 8100, 7800, 8000, 7700, 7900,
           7600, 7800, 7500, 7700, 7900, 7600, 7800, 8000, 7700, 7900,
           8100, 7800, 8000, 8200]
sim_129 = [10100, 10400, 10800, 11200, 11600, 12000, 11700, 12100, 12500, 12900,
           12600, 13000, 12700, 13100, 12800, 13200, 12900, 13300, 13700, 13400,
           13800, 13500, 13900, 14300, 14000, 14400, 14100, 14500, 14200, 14600,
           14300, 14700, 15000, 14900]

SIMS = [sim_00, sim_01, sim_02, sim_03, sim_04, sim_05, sim_06, sim_07, sim_08, sim_09,
        sim_10, sim_11, sim_12, sim_13, sim_14, sim_15, sim_16, sim_17, sim_18, sim_19,
        sim_20, sim_21, sim_22, sim_23, sim_24, sim_25, sim_26, sim_27, sim_28, sim_29,
        sim_30, sim_31, sim_32, sim_33, sim_34, sim_35, sim_36, sim_37, sim_38, sim_39,
        sim_40, sim_41, sim_42, sim_43, sim_44, sim_45, sim_46, sim_47, sim_48, sim_49,
        sim_50, sim_51, sim_52, sim_53, sim_54, sim_55, sim_56, sim_57, sim_58, sim_59,
        sim_60, sim_61, sim_62, sim_63, sim_64, sim_65, sim_66, sim_67, sim_68, sim_69,
        sim_70, sim_71, sim_72, sim_73, sim_74, sim_75, sim_76, sim_77, sim_78, sim_79,
        sim_80, sim_81, sim_82, sim_83, sim_84, sim_85, sim_86, sim_87, sim_88, sim_89,
        sim_90, sim_91, sim_92, sim_93, sim_94, sim_95, sim_96, sim_97, sim_98, sim_99,
        sim_100, sim_101, sim_102, sim_103, sim_104, sim_105, sim_106, sim_107, sim_108, sim_109,
        sim_110, sim_111, sim_112, sim_113, sim_114, sim_115, sim_116, sim_117, sim_118, sim_119,
        sim_120, sim_121, sim_122, sim_123, sim_124, sim_125, sim_126, sim_127, sim_128, sim_129]

# long-form table for seaborn
rows = []
for i, path in enumerate(SIMS):
    assert len(path) == len(DAYS), f"sim_{i:02d} has {len(path)} points"
    for d, v in zip(DAYS, path):
        rows.append({"Days": d, "Value": v, "Sim": i})
df = pd.DataFrame(rows)

# default matplotlib colour cycle, repeated for every path
tab10 = plt.rcParams["axes.prop_cycle"].by_key()["color"]
palette = [tab10[i % len(tab10)] for i in range(len(SIMS))]

fig = plt.figure(figsize=(5.87, 4.55), dpi=200)
ax = fig.add_subplot(111)
fig.subplots_adjust(left=0.1405, right=0.9847, bottom=0.1165, top=0.9308)

sns.lineplot(data=df, x="Days", y="Value", hue="Sim", palette=palette,
             estimator=None, legend=False, linewidth=1.5, ax=ax)

ax.set_title("MC simulation of a stock portfolio")
ax.set_xlabel("Days")
ax.set_ylabel("Portfolio Value ($)")

fig.savefig("out.png", dpi=200)
plt.close(fig)
